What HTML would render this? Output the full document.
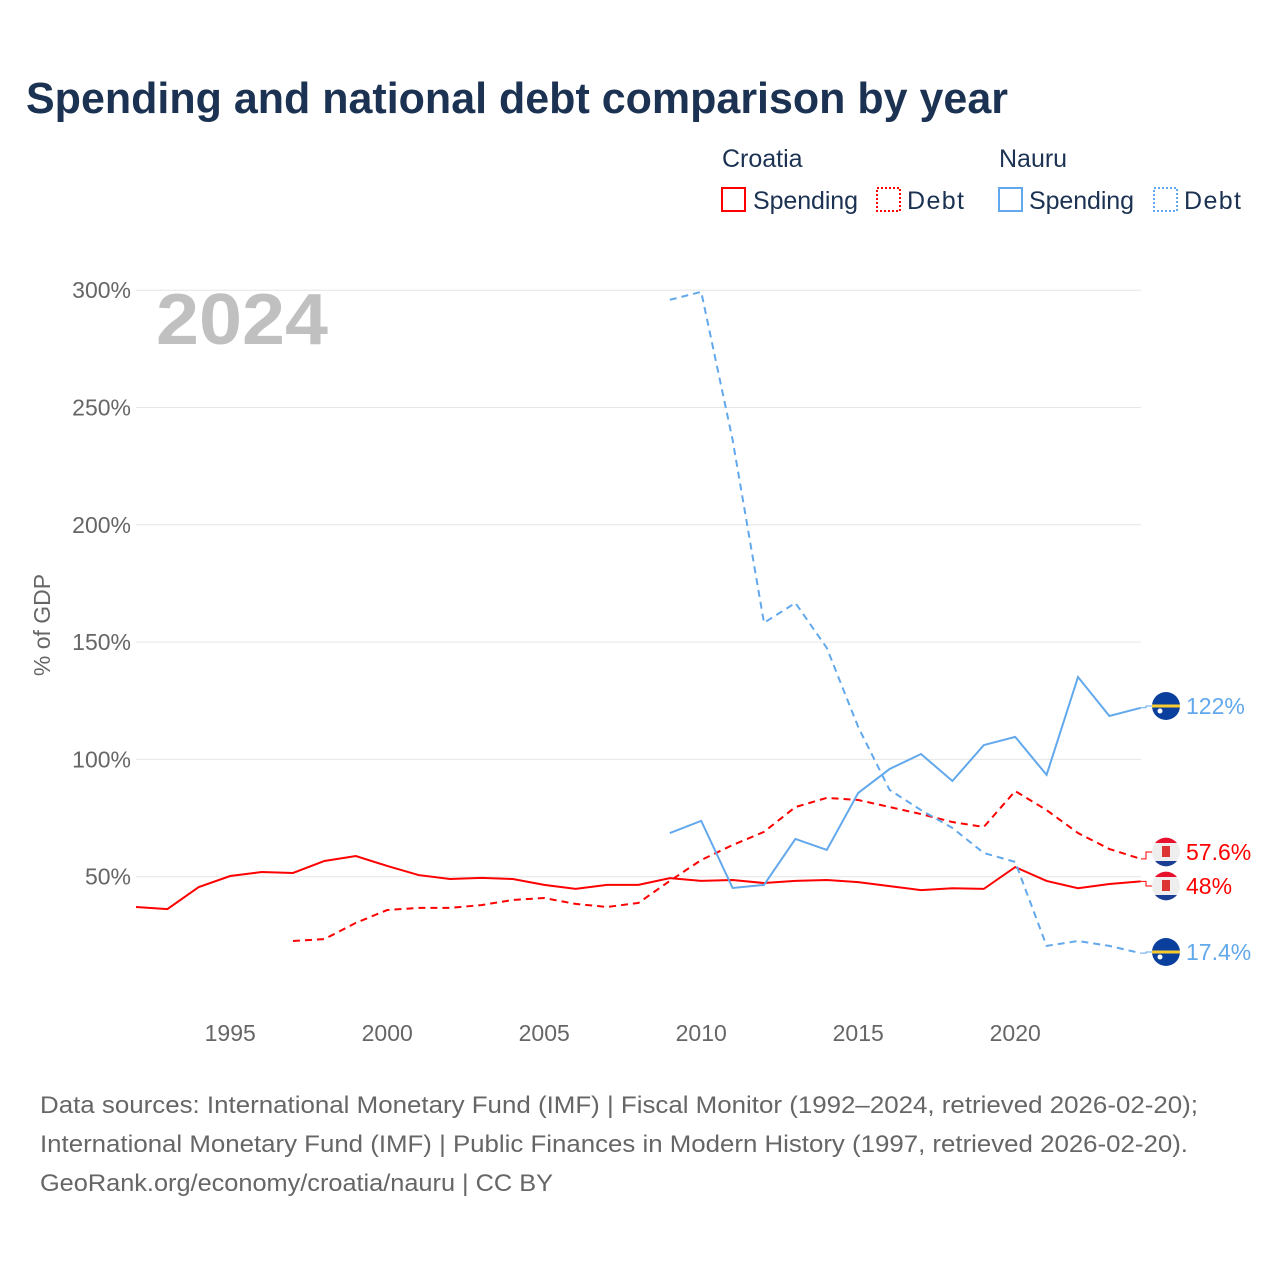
<!DOCTYPE html>
<html><head><meta charset="utf-8">
<style>
body{margin:0;background:#fff;width:1280px;height:1280px;overflow:hidden;font-family:"Liberation Sans",sans-serif}
svg text{font-family:"Liberation Sans",sans-serif}
</style></head>
<body>
<svg id="chart" width="1280" height="1280" viewBox="0 0 1280 1280" xmlns="http://www.w3.org/2000/svg">
<text x="26" y="113" font-size="44" font-weight="bold" fill="#1b3252" textLength="982" lengthAdjust="spacingAndGlyphs">Spending and national debt comparison by year</text>
<g font-size="25" fill="#1b3252">
<text x="722" y="167">Croatia</text>
<text x="999" y="167">Nauru</text>
<g><rect x="722" y="188" width="23" height="23" fill="none" stroke="#ff0000" stroke-width="2"/><text x="753" y="209" textLength="105">Spending</text></g>
<g><rect x="877" y="188" width="23" height="23" fill="none" stroke="#ff0000" stroke-width="2" stroke-dasharray="2,2"/><text x="907" y="209" textLength="57">Debt</text></g>
<g><rect x="999" y="188" width="23" height="23" fill="none" stroke="#62a8ec" stroke-width="2"/><text x="1029" y="209" textLength="105">Spending</text></g>
<g><rect x="1154" y="188" width="23" height="23" fill="none" stroke="#62a8ec" stroke-width="2" stroke-dasharray="2,2"/><text x="1184" y="209" textLength="57">Debt</text></g>
</g>
<text x="156" y="344" font-size="72" font-weight="bold" fill="#c0c0c0" textLength="172" lengthAdjust="spacingAndGlyphs">2024</text>
<text transform="translate(50,625) rotate(-90)" text-anchor="middle" font-size="23" fill="#666">% of GDP</text>
<g id="grid"></g><g id="xt"></g><g id="lines"></g><g id="ends"></g>
<g font-size="24" fill="#666">
<text x="40" y="1113" textLength="1158" lengthAdjust="spacingAndGlyphs">Data sources: International Monetary Fund (IMF) | Fiscal Monitor (1992–2024, retrieved 2026-02-20);</text>
<text x="40" y="1152" textLength="1148" lengthAdjust="spacingAndGlyphs">International Monetary Fund (IMF) | Public Finances in Modern History (1997, retrieved 2026-02-20).</text>
<text x="40" y="1191" textLength="513" lengthAdjust="spacingAndGlyphs">GeoRank.org/economy/croatia/nauru | CC BY</text>
</g>
</svg>
<script>
const yTicks=[50,100,150,200,250,300];
const xTicks=[1995,2000,2005,2010,2015,2020];
const croSpendYears=[1992,1993,1994,1995,1996,1997,1998,1999,2000,2001,2002,2003,2004,2005,2006,2007,2008,2009,2010,2011,2012,2013,2014,2015,2016,2017,2018,2019,2020,2021,2022,2023,2024];
const croSpend=[37.1,36.2,45.6,50.3,52.0,51.6,56.7,58.8,54.6,50.7,49.0,49.5,49.0,46.5,44.8,46.5,46.5,49.4,48.2,48.6,47.3,48.2,48.6,47.7,46.0,44.3,45.1,44.8,54.1,48.2,45.1,46.9,48];
const croDebtYears=[1997,1998,1999,2000,2001,2002,2003,2004,2005,2006,2007,2008,2009,2010,2011,2012,2013,2014,2015,2016,2017,2018,2019,2020,2021,2022,2023,2024];
const croDebt=[22.6,23.4,30.3,35.8,36.7,36.7,37.9,40.1,40.9,38.4,37.1,38.8,48.2,57.1,63.5,69.1,79.7,83.6,82.7,79.7,76.7,73.3,71.2,86.5,78.4,68.6,61.8,57.6];
const nauYears=[2009,2010,2011,2012,2013,2014,2015,2016,2017,2018,2019,2020,2021,2022,2023,2024];
const nauSpend=[68.6,73.8,45.2,46.5,66.1,61.4,85.7,95.9,102.3,90.8,106.1,109.6,93.4,135.1,118.5,122];
const nauDebt=[295.9,299.3,236.2,158.2,166.7,147.5,113.8,87.0,78.4,70.8,60.1,56.3,20.5,22.6,20.5,17.4];
const ns="http://www.w3.org/2000/svg";
const X=yr=>136+(yr-1992)*31.4;
const Y=v=>994-v*2.346;
function mk(t,a,p){const e=document.createElementNS(ns,t);for(const k in a)e.setAttribute(k,a[k]);p.appendChild(e);return e;}
const grid=document.getElementById('grid');
yTicks.forEach(v=>{
 const l=mk('line',{x1:136,x2:1141,y1:Y(v),y2:Y(v),stroke:'#e6e6e6','stroke-width':1},grid);
 
 
 const t=mk('text',{x:131,y:Y(v)+8,'text-anchor':'end','font-size':23,fill:'#666'},grid);
 t.textContent=v+'%';
 
 
});
const xt=document.getElementById('xt');
xTicks.forEach(yr=>{
 const t=mk('text',{x:X(yr),y:1041,'text-anchor':'middle','font-size':23,fill:'#666'},xt);
 t.textContent=yr;
 
 
});
const lines=document.getElementById('lines');
function series(yrs,vals,col,dash,name){
 const p=mk('polyline',{points:yrs.map((y,i)=>X(y)+','+Y(vals[i])).join(' '),fill:'none',stroke:col,'stroke-width':2,'stroke-dasharray':dash||'none'},lines);
 
 
}
series(croSpendYears,croSpend,'#ff0000',null,'croatia-spending-line');
series(croDebtYears,croDebt,'#ff0000','7,5','croatia-debt-line');
series(nauYears,nauSpend,'#62a8ec',null,'nauru-spending-line');
series(nauYears,nauDebt,'#62a8ec','7,5','nauru-debt-line');
const ends=document.getElementById('ends');
function endLabel(v,ly,col,flag,name){
 const g=mk('g',{},ends);
 
 
 mk('polyline',{points:`1141,${Y(v)} 1146,${Y(v)} 1146,${ly} 1152,${ly}`,fill:'none',stroke:col,'stroke-width':1},g);
 const cx=1166;
 if(flag==='nauru'){
  mk('circle',{cx:cx,cy:ly,r:14,fill:'#0b3f9e'},g);
  mk('rect',{x:cx-14,y:ly-1.5,width:28,height:3,fill:'#f8cb2e'},g);
  mk('circle',{cx:cx-6,cy:ly+5,r:2.5,fill:'#fff'},g);
 }else{
  mk('circle',{cx:cx,cy:ly,r:14,fill:'#eee'},g);
  mk('path',{d:`M${cx-11},${ly-9} A14,14 0 0 1 ${cx+11},${ly-9} Z`,fill:'#e8112d'},g);
  mk('path',{d:`M${cx-11},${ly+9} A14,14 0 0 0 ${cx+11},${ly+9} Z`,fill:'#1c3d94'},g);
  mk('rect',{x:cx-4,y:ly-6,width:8,height:11,fill:'#d33'},g);
 }
 const t=mk('text',{x:1186,y:ly+8,'font-size':23,fill:col},g);
 t.textContent=(Math.round(v*10)/10)+'%';
}
endLabel(nauSpend[nauSpend.length-1],706,'#62a8ec','nauru','nauru-spending-end-label');
endLabel(croDebt[croDebt.length-1],852,'#ff0000','croatia','croatia-debt-end-label');
endLabel(croSpend[croSpend.length-1],886,'#ff0000','croatia','croatia-spending-end-label');
endLabel(nauDebt[nauDebt.length-1],952,'#62a8ec','nauru','nauru-debt-end-label');
</script>
</body></html>
